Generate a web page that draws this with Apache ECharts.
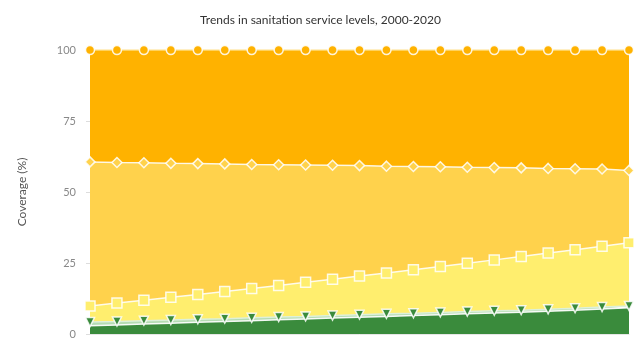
<!DOCTYPE html>
<html>
<head>
<meta charset="utf-8">
<script src="https://cdn.jsdelivr.net/npm/echarts@6/dist/echarts.min.js"></script>
<style>html,body{margin:0;padding:0;background:#fff}#c{width:641px;height:346px}</style>
</head>
<body>
<div id="c"></div>
<script>
const years = ['2000','2001','2002','2003','2004','2005','2006','2007','2008','2009','2010','2011','2012','2013','2014','2015','2016','2017','2018','2019','2020'];
const safelyManaged = [2.9,3.2,3.5,3.8,4.1,4.4,4.7,5.0,5.3,5.6,5.9,6.2,6.5,6.8,7.1,7.4,7.7,8.0,8.4,8.8,9.2];
const basic = [1.3,1.2,1.2,1.1,1.1,1.0,1.0,1.0,0.9,0.9,0.9,0.9,0.8,0.8,0.8,0.8,0.7,0.7,0.7,0.7,0.7];
const limited = [5.7,6.5,7.2,8.0,8.7,9.6,10.3,11.1,12.0,12.8,13.6,14.4,15.3,16.2,17.0,17.9,18.9,19.8,20.6,21.4,22.2];
const unimproved = [50.7,49.5,48.4,47.2,46.1,44.9,43.7,42.5,41.3,40.1,38.9,37.6,36.4,35.1,33.8,32.5,31.2,29.8,28.5,27.2,25.5];
const openDefecation = [39.4,39.6,39.7,39.9,40.0,40.1,40.3,40.4,40.5,40.6,40.7,40.9,41.0,41.1,41.3,41.4,41.5,41.7,41.8,41.9,42.4];
const yTicks = [0,25,50,75,100];

const chart = echarts.init(document.getElementById('c'));
function mk(name, data, fill, symbol, symSize, symColor, lineColor) {
  return {
    name, type: 'line', stack: 'total', data,
    symbol: symbol || 'none', symbolSize: symSize || 0,
    symbolRotate: symbol === 'triangle' ? 180 : 0,
    showSymbol: !!symbol,
    itemStyle: { color: symColor || fill, borderColor: 'rgba(255,255,255,0.85)', borderWidth: 1.5 },
    lineStyle: { color: lineColor || 'rgba(255,255,255,0.85)', width: 1.5 },
    areaStyle: { color: fill, opacity: 1 },
    emphasis: { disabled: true },
    z: 2
  };
}
chart.setOption({
  animation: false,
  backgroundColor: '#fff',
  title: {
    text: 'Trends in sanitation service levels, 2000-2020',
    left: 'center', top: 9,
    textStyle: { fontFamily: 'Lato', fontSize: 12, fontWeight: 'normal', color: '#333' }
  },
  grid: { left: 90, right: 12, top: 50, bottom: 12 },
  xAxis: {
    type: 'category', data: years, boundaryGap: false,
    axisLabel: { show: false }, axisTick: { show: false },
    axisLine: { show: true, lineStyle: { color: '#e6e6e6' } }
  },
  yAxis: {
    type: 'value', min: yTicks[0], max: yTicks[yTicks.length - 1], interval: 25,
    name: 'Coverage (%)', nameLocation: 'middle', nameGap: 62, nameRotate: 90,
    nameTextStyle: { fontFamily: 'Lato', fontSize: 12, color: '#555' },
    axisLabel: { fontFamily: 'Lato', fontSize: 11, color: '#888', margin: 14 },
    axisTick: { show: true, length: 4, lineStyle: { color: '#ddd' } },
    axisLine: { show: false },
    splitLine: { show: false }
  },
  series: [
    mk('Safely managed', safelyManaged, '#3a8b3c', null, 0, null, 'rgba(255,255,255,0.9)'),
    mk('Basic', basic, '#b5dcb3', 'triangle', 9, '#3a8b3c', 'rgba(220,240,220,0.95)'),
    mk('Limited', limited, '#ffee6e', 'rect', 10, '#ffee6e'),
    mk('Unimproved', unimproved, '#ffd24c', 'diamond', 10, '#ffd24c'),
    mk('Open defecation', openDefecation, '#ffb200', 'circle', 9, '#ffb200', 'rgba(255,225,140,0.9)')
  ]
});
</script>
</body>
</html>
